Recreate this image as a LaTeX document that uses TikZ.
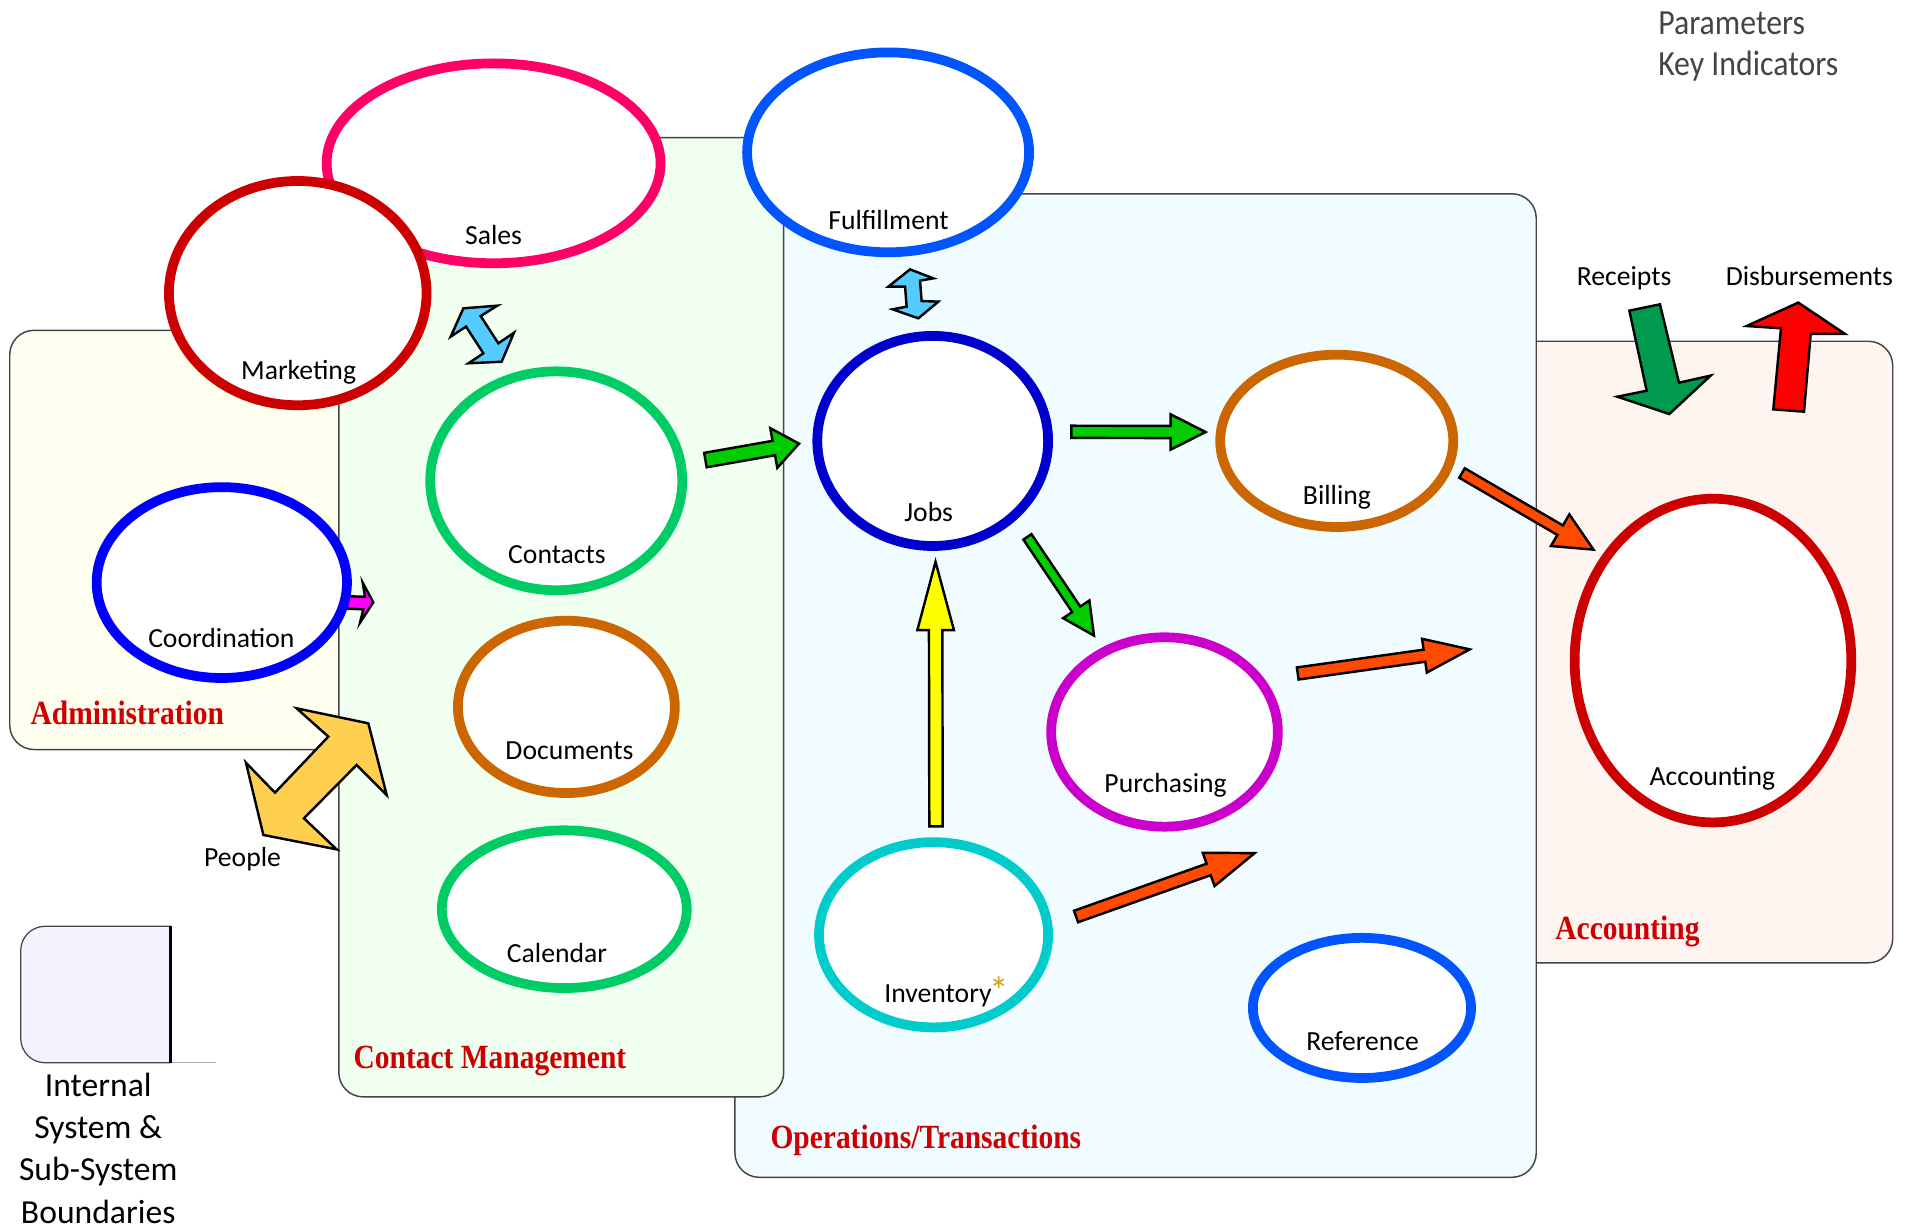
\documentclass[tikz,border=0pt]{standalone}
\usepackage{fontspec}
\setmainfont{Carlito}
\newfontfamily\titlefont{Liberation Serif}[FakeStretch=0.87]
\newfontfamily\narrowfont{Carlito}[FakeStretch=0.9]
\usetikzlibrary{shapes.geometric,calc}
\definecolor{boxline}{HTML}{444444}
\definecolor{adminfill}{HTML}{FFFFF0}
\definecolor{contfill}{HTML}{F0FFF0}
\definecolor{opsfill}{HTML}{F0FCFF}
\definecolor{accfill}{HTML}{FFF5F0}
\definecolor{legendfill}{HTML}{F6F2FF}
\definecolor{titlered}{HTML}{CC0000}
\definecolor{salescol}{HTML}{FF0066}
\definecolor{darkred}{HTML}{CC0000}
\definecolor{contcol}{HTML}{00CC66}
\definecolor{coordcol}{HTML}{0000FF}
\definecolor{fulcol}{HTML}{0055FF}
\definecolor{jobscol}{HTML}{0000CC}
\definecolor{browncol}{HTML}{CC6600}
\definecolor{invcol}{HTML}{00CCCC}
\definecolor{purcol}{HTML}{CC00CC}
\definecolor{greenarr}{HTML}{00CC00}
\definecolor{orangearr}{HTML}{FF4A00}
\definecolor{yellowarr}{HTML}{FFFF00}
\definecolor{cyanarr}{HTML}{55CCFF}
\definecolor{peoplearr}{HTML}{FFD050}
\definecolor{magarr}{HTML}{FF00FF}
\definecolor{rcptarr}{HTML}{009A4E}
\definecolor{disbarr}{HTML}{FF0000}
\definecolor{astcol}{HTML}{D4A017}
\definecolor{lighttext}{HTML}{444444}
\tikzset{
  ell/.style={ellipse, draw=#1, line width=8pt, fill=white, inner sep=0pt, outer sep=0pt},
  lbl/.style={anchor=base, inner sep=0pt, font=\fontsize{22.7}{26}\selectfont},
  legtext/.style={anchor=base, inner sep=0pt, font=\fontsize{27.6}{32}\selectfont},
  toptext/.style={anchor=base west, inner sep=0pt, text=lighttext, font=\narrowfont\fontsize{29}{33}\selectfont},
  systitle/.style={anchor=base west, inner sep=0pt, text=titlered, font=\titlefont\bfseries\fontsize{27.8}{32}\selectfont},
  sysbox/.style={draw=boxline, line width=1.2pt, rounded corners=20pt},
  blk/.style={draw=black, line width=2pt, line join=miter, fill=#1},
}
\newcommand\blockarrow[7]{% name, colour, tail, tip, half shaft, half head, head length
  \coordinate (#1-t) at #3;
  \coordinate (#1-h) at #4;
  \coordinate (#1-b) at ($(#1-h)!#7!(#1-t)$);
  \draw[blk=#2] ($(#1-t)!#5!90:(#1-h)$) -- ($(#1-b)!#5!90:(#1-h)$) -- ($(#1-b)!#6!90:(#1-h)$)
    -- (#1-h) -- ($(#1-b)!#6!-90:(#1-h)$) -- ($(#1-b)!#5!-90:(#1-h)$) -- ($(#1-t)!#5!-90:(#1-h)$) -- cycle;
}
\begin{document}
\begin{tikzpicture}[x=1pt,y=-1pt]
\useasboundingbox (0,0) rectangle (1568,1008);
% system boxes
\draw[sysbox, fill=accfill] (1230,280) rectangle (1553,790);
\draw[sysbox, fill=adminfill] (8,271) rectangle (320,615);
\draw[sysbox, fill=opsfill] (603,159) rectangle (1260.5,966);
\draw[sysbox, fill=contfill] (278,113) rectangle (643,900);
% legend box
\draw[draw=boxline, line width=1pt, fill=legendfill, rounded corners=20pt] (140,760) -- (17,760) -- (17,872) -- (140,872);
\draw[gray!60, line width=1pt] (140,872) -- (177,872);
\draw[line width=2.5pt] (140,760) -- (140,872);
% titles
\node[systitle] (tadmin) at (25,594.3) {Administration};
\node[systitle] (tcont) at (290,876.3) {Contact Management};
\node[systitle] (tops) at (632,942) {Operations/Transactions};
\node[systitle] (tacc) at (1276,770.5) {Accounting};
% block arrows
\blockarrow{a1}{greenarr}{(578.8,377.5)}{(655.6,364)}{6pt}{16.5pt}{21pt}
\blockarrow{a2}{greenarr}{(879,354.3)}{(989.2,354.5)}{5pt}{14.5pt}{28.7pt}
\blockarrow{a3}{greenarr}{(843,440.5)}{(897.6,521.5)}{4pt}{13pt}{26pt}
\blockarrow{a4}{yellowarr}{(768,678)}{(767.6,461)}{5.5pt}{15pt}{56pt}
\blockarrow{a5}{orangearr}{(1199.6,388.1)}{(1307.5,451)}{4.5pt}{15pt}{31.7pt}
\blockarrow{a6}{orangearr}{(1064.8,552.6)}{(1205.9,532.8)}{5pt}{14pt}{37.5pt}
\blockarrow{a7}{orangearr}{(882.9,752)}{(1029.4,700)}{5pt}{14.5pt}{40pt}
\draw[blk=cyanarr] (380.2,253.0) -- (408.1,250.8) -- (394.4,259.3) -- (408.9,281.7) -- (421.7,273) -- (411.6,296.8) -- (384.3,298.1) -- (396.6,289.9) -- (382.4,268) -- (369.8,276.2) -- cycle;
\draw[blk=cyanarr] (746.7,221) -- (765.8,228.4) -- (754.9,230.3) -- (756.2,247) -- (769.9,247.5) -- (753.5,261.2) -- (732.4,253.8) -- (743.9,251.6) -- (742.6,235.2) -- (728.9,235.2) -- cycle;
\draw[blk=peoplearr] (243.4,581.2) -- (269.4,604.4) -- (225.6,650.4) -- (201.8,625.8) -- (216.1,685.1) -- (276.2,696.9) -- (249.4,671.4) -- (292.6,627.7) -- (317.3,652.3) -- (302.2,593.5) -- cycle;
\draw[blk=magarr] (275,489) -- (299.5,489.6) -- (297.6,478.1) -- (306.3,494.2) -- (295.4,510.9) -- (298.1,500) -- (275,498.9) -- cycle;
\draw[blk=rcptarr] (1336.9,254.9) -- (1362,249.7) -- (1377.6,314) -- (1403.6,308.2) -- (1369.7,339.7) -- (1327,325.5) -- (1351.1,320.6) -- cycle;
\draw[blk=disbarr] (1455,335.9) -- (1480.2,337.8) -- (1485.7,274) -- (1513.8,274) -- (1475.5,248.3) -- (1433.1,267.5) -- (1461.3,269.4) -- cycle;
% ellipses
\node[ell=salescol, minimum width=274pt, minimum height=164pt] (sales) at (405,134) {};
\node[ell=darkred, minimum width=211.4pt, minimum height=184pt] (marketing) at (244.3,240.5) {};
\node[ell=contcol, minimum width=206.8pt, minimum height=179.6pt] (contacts) at (456.4,394.5) {};
\node[ell=coordcol, minimum width=205.4pt, minimum height=156.6pt] (coordination) at (182,478) {};
\node[ell=fulcol, minimum width=231.4pt, minimum height=164pt] (fulfillment) at (728.7,125) {};
\node[ell=jobscol, minimum width=189.4pt, minimum height=172.4pt] (jobs) at (765.3,361.8) {};
\node[ell=browncol, minimum width=191.2pt, minimum height=141.4pt] (billing) at (1096.8,361.7) {};
\node[ell=darkred, minimum width=227pt, minimum height=265.6pt] (accounting) at (1405.5,542) {};
\node[ell=browncol, minimum width=178pt, minimum height=141.4pt] (documents) at (464.7,580) {};
\node[ell=contcol, minimum width=201pt, minimum height=129.4pt] (calendar) at (463,746) {};
\node[ell=invcol, minimum width=188pt, minimum height=152pt] (inventory) at (766,767) {};
\node[ell=purcol, minimum width=186pt, minimum height=155.4pt] (purchasing) at (955.5,600.6) {};
\node[ell=fulcol, minimum width=179pt, minimum height=115pt] (reference) at (1117.5,827) {};
% labels
\node[lbl] (lsales) at (405,201) {Sales};
\node[lbl] (lmarketing) at (245,311.5) {Marketing};
\node[lbl] (lcontacts) at (457,462.3) {Contacts};
\node[lbl] (lfulfillment) at (729,188) {Fulfillment};
\node[lbl] (ljobs) at (762,428.3) {Jobs};
\node[lbl] (lcoord) at (181.6,531) {Coordination};
\node[lbl] (lpeople) at (199,710.7) {People};
\node[lbl] (ldocs) at (467.3,622.8) {Documents};
\node[lbl] (lcal) at (457,790) {Calendar};
\node[lbl] (lbilling) at (1097,413.6) {Billing};
\node[lbl] (lreceipts) at (1332.6,234.2) {Receipts};
\node[lbl] (ldisb) at (1484.6,234.2) {Disbursements};
\node[lbl] (lpurch) at (956.4,649.9) {Purchasing};
\node[lbl] (lacc) at (1405,644.4) {Accounting};
\node[lbl] (lref) at (1118,862.1) {Reference};
\node[lbl] (linv) at (769.6,822.3) {Inventory\rlap{\kern-1.5pt\raisebox{-1.7pt}{\textcolor{astcol}{\fontsize{32}{36}\selectfont *}}}};
% top right
\node[toptext] (params) at (1360.4,28.5) {Parameters};
\node[toptext] (keyind) at (1360.4,61.6) {Key Indicators};
% legend text
\node[legtext] (leg1) at (80.6,899.8) {Internal};
\node[legtext] (leg2) at (80.6,934) {System \&};
\node[legtext] (leg3) at (80.6,968.8) {Sub-System};
\node[legtext] (leg4) at (80.6,1003.5) {Boundaries};
\end{tikzpicture}
\end{document}
